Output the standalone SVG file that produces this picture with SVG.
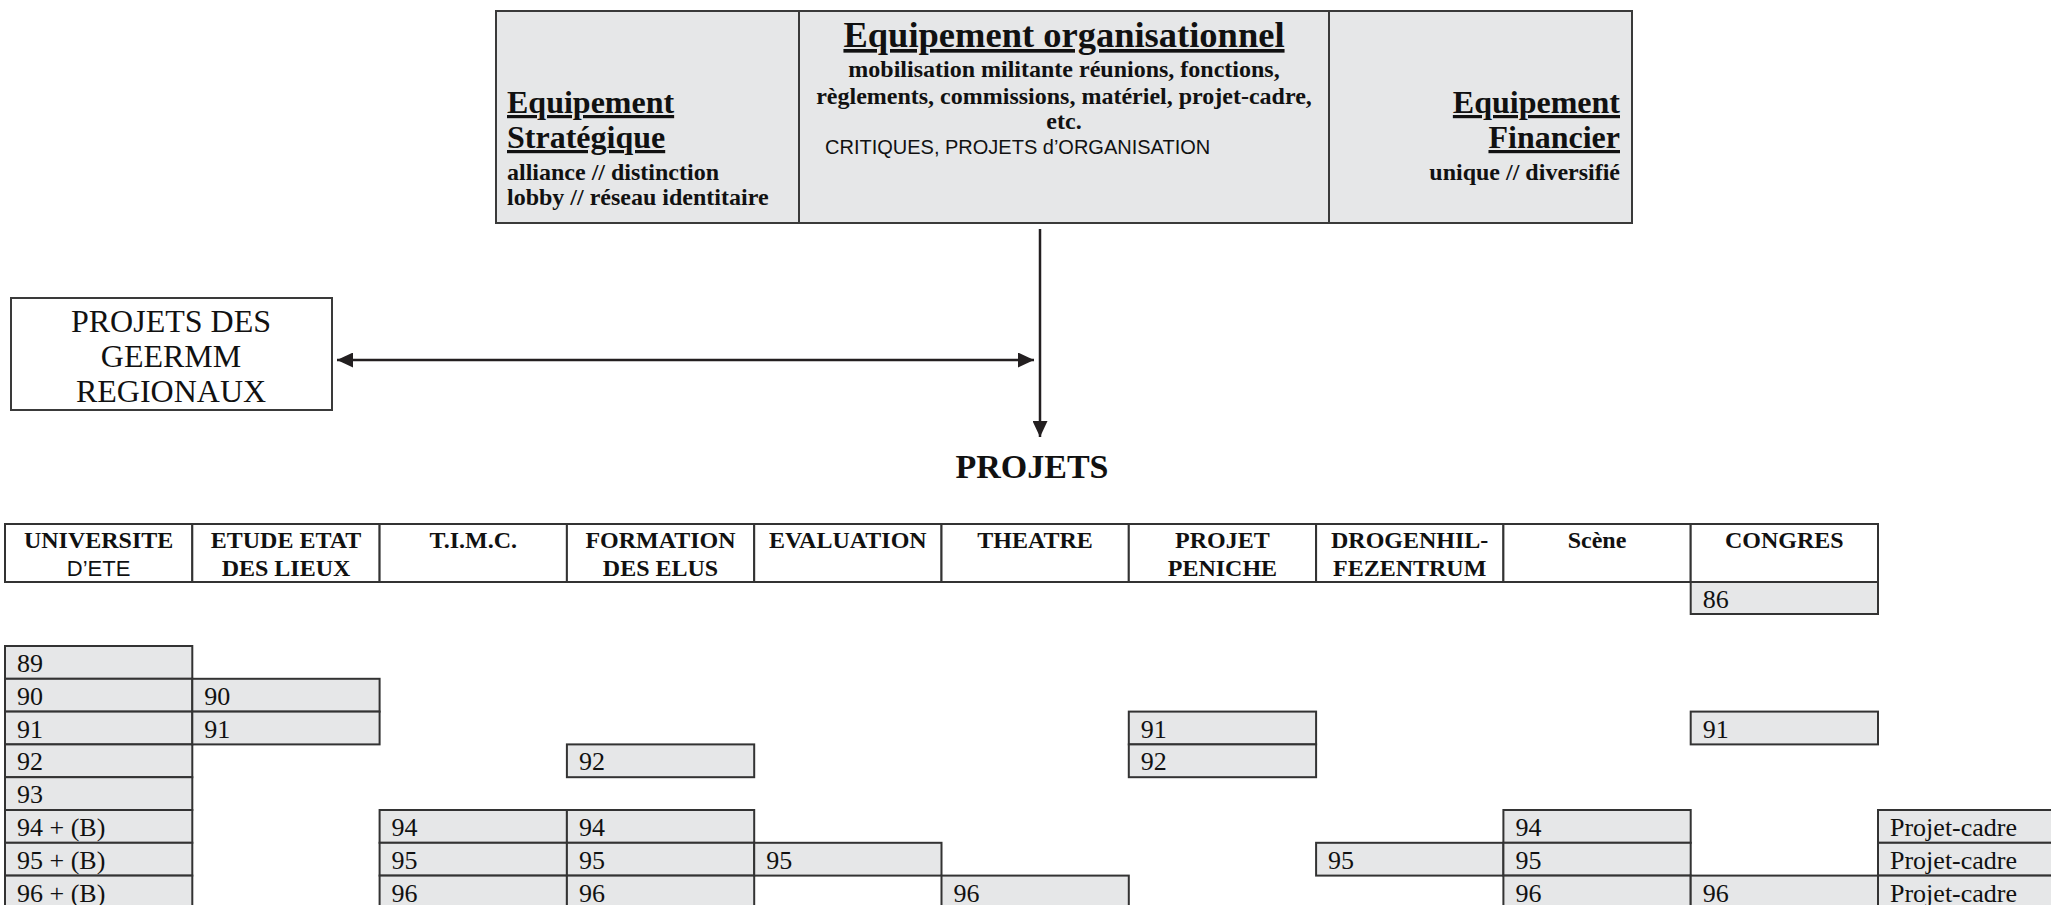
<svg xmlns="http://www.w3.org/2000/svg" width="2051" height="905" viewBox="0 0 2051 905">
<defs>
<style>
.box{fill:#e6e7e8;stroke:#3a3a3a;stroke-width:2}
.wbox{fill:#ffffff;stroke:#3a3a3a;stroke-width:2}
.div{stroke:#3a3a3a;stroke-width:2}
.cell{fill:#e6e7e8;stroke:#333333;stroke-width:2}
.hdr{fill:#ffffff;stroke:#333333;stroke-width:2}
.conn{stroke:#231f20;stroke-width:2.5;fill:none}
text{fill:#111111}
.big{font-family:"Liberation Serif",serif;font-weight:bold;font-size:32px;text-decoration:underline}
.title{font-family:"Liberation Serif",serif;font-weight:bold;font-size:36.5px;text-decoration:underline;text-anchor:middle}
.sub{font-family:"Liberation Serif",serif;font-weight:bold;font-size:24px}
.subc{font-family:"Liberation Serif",serif;font-weight:bold;font-size:24px;text-anchor:middle}
.sans{font-family:"Liberation Sans",Arial,sans-serif;font-size:20px}
.reg{font-family:"Liberation Serif",serif;font-size:32px;text-anchor:middle}
.proj{font-family:"Liberation Serif",serif;font-weight:bold;font-size:34px;text-anchor:middle}
.th{font-family:"Liberation Serif",serif;font-weight:bold;font-size:24px;text-anchor:middle}
.ths{font-family:"Liberation Sans",Arial,sans-serif;font-size:22px;text-anchor:middle}
.tc{font-family:"Liberation Serif",serif;font-size:26px}
</style>
<marker id="arr" viewBox="0 0 16 15" refX="16" refY="7.5" markerWidth="16" markerHeight="15" markerUnits="userSpaceOnUse" orient="auto-start-reverse">
<path d="M0,0 L16,7.5 L0,15 Z" fill="#231f20"/>
</marker>
</defs>

<g id="equipement">
<rect class="box" x="496" y="11" width="1136" height="212"/>
<line class="div" x1="799" y1="11" x2="799" y2="223"/>
<line class="div" x1="1329" y1="11" x2="1329" y2="223"/>
<g id="equipement-strategique">
<text class="big" x="507" y="113">Equipement</text>
<text class="big" x="507" y="148">Stratégique</text>
<text class="sub" x="507" y="180">alliance // distinction</text>
<text class="sub" x="507" y="205">lobby // réseau identitaire</text>
</g>
<g id="equipement-organisationnel">
<text class="title" x="1064" y="47">Equipement organisationnel</text>
<text class="subc" x="1064" y="77">mobilisation militante réunions, fonctions,</text>
<text class="subc" x="1064" y="104">règlements, commissions, matériel, projet-cadre,</text>
<text class="subc" x="1064" y="129">etc.</text>
<text class="sans" x="825" y="154">CRITIQUES, PROJETS d’ORGANISATION</text>
</g>
<g id="equipement-financier">
<text class="big" x="1620" y="113" text-anchor="end">Equipement</text>
<text class="big" x="1620" y="148" text-anchor="end">Financier</text>
<text class="sub" x="1620" y="180" text-anchor="end">unique // diversifié</text>
</g>
</g>

<g id="projets-geermm">
<rect class="wbox" x="11" y="298" width="321" height="112"/>
<text class="reg" x="171" y="332">PROJETS DES</text>
<text class="reg" x="171" y="367">GEERMM</text>
<text class="reg" x="171" y="402">REGIONAUX</text>
</g>

<g id="projets">
<text class="proj" x="1032" y="478">PROJETS</text>
</g>

<g id="connectors">
<line class="conn" x1="1040" y1="229" x2="1040" y2="437" marker-end="url(#arr)"/>
<line class="conn" x1="337" y1="360" x2="1034" y2="360" marker-start="url(#arr)" marker-end="url(#arr)"/>
</g>

<g id="table-header">
<g id="h-universite"><rect class="hdr" x="5" y="524" width="187.3" height="58"/><text class="th" x="98.6" y="548">UNIVERSITE</text><text class="ths" x="98.6" y="576">D’ETE</text></g>
<g id="h-etude"><rect class="hdr" x="192.3" y="524" width="187.3" height="58"/><text class="th" x="286" y="548">ETUDE ETAT</text><text class="th" x="286" y="576">DES LIEUX</text></g>
<g id="h-timc"><rect class="hdr" x="379.6" y="524" width="187.3" height="58"/><text class="th" x="473.2" y="548">T.I.M.C.</text></g>
<g id="h-formation"><rect class="hdr" x="566.9" y="524" width="187.3" height="58"/><text class="th" x="660.5" y="548">FORMATION</text><text class="th" x="660.5" y="576">DES ELUS</text></g>
<g id="h-evaluation"><rect class="hdr" x="754.2" y="524" width="187.3" height="58"/><text class="th" x="847.8" y="548">EVALUATION</text></g>
<g id="h-theatre"><rect class="hdr" x="941.5" y="524" width="187.3" height="58"/><text class="th" x="1035.1" y="548">THEATRE</text></g>
<g id="h-peniche"><rect class="hdr" x="1128.8" y="524" width="187.3" height="58"/><text class="th" x="1222.4" y="548">PROJET</text><text class="th" x="1222.4" y="576">PENICHE</text></g>
<g id="h-drogenhilfe"><rect class="hdr" x="1316.1" y="524" width="187.3" height="58"/><text class="th" x="1409.7" y="548">DROGENHIL-</text><text class="th" x="1409.7" y="576">FEZENTRUM</text></g>
<g id="h-scene"><rect class="hdr" x="1503.4" y="524" width="187.3" height="58"/><text class="th" x="1597" y="548">Scène</text></g>
<g id="h-congres"><rect class="hdr" x="1690.7" y="524" width="187.3" height="58"/><text class="th" x="1784.3" y="548">CONGRES</text></g>
</g>

<g id="col-universite">
<rect class="cell" x="5" y="646" width="187.3" height="32.8"/><text class="tc" x="17" y="672">89</text>
<rect class="cell" x="5" y="678.8" width="187.3" height="32.8"/><text class="tc" x="17" y="704.8">90</text>
<rect class="cell" x="5" y="711.6" width="187.3" height="32.8"/><text class="tc" x="17" y="737.6">91</text>
<rect class="cell" x="5" y="744.4" width="187.3" height="32.8"/><text class="tc" x="17" y="770.4">92</text>
<rect class="cell" x="5" y="777.2" width="187.3" height="32.8"/><text class="tc" x="17" y="803.2">93</text>
<rect class="cell" x="5" y="810" width="187.3" height="32.8"/><text class="tc" x="17" y="836">94 + (B)</text>
<rect class="cell" x="5" y="842.8" width="187.3" height="32.8"/><text class="tc" x="17" y="868.8">95 + (B)</text>
<rect class="cell" x="5" y="875.6" width="187.3" height="32.8"/><text class="tc" x="17" y="901.6">96 + (B)</text>
</g>
<g id="col-etude">
<rect class="cell" x="192.3" y="678.8" width="187.3" height="32.8"/><text class="tc" x="204.3" y="704.8">90</text>
<rect class="cell" x="192.3" y="711.6" width="187.3" height="32.8"/><text class="tc" x="204.3" y="737.6">91</text>
</g>
<g id="col-timc">
<rect class="cell" x="379.6" y="810" width="187.3" height="32.8"/><text class="tc" x="391.6" y="836">94</text>
<rect class="cell" x="379.6" y="842.8" width="187.3" height="32.8"/><text class="tc" x="391.6" y="868.8">95</text>
<rect class="cell" x="379.6" y="875.6" width="187.3" height="32.8"/><text class="tc" x="391.6" y="901.6">96</text>
</g>
<g id="col-formation">
<rect class="cell" x="566.9" y="744.4" width="187.3" height="32.8"/><text class="tc" x="578.9" y="770.4">92</text>
<rect class="cell" x="566.9" y="810" width="187.3" height="32.8"/><text class="tc" x="578.9" y="836">94</text>
<rect class="cell" x="566.9" y="842.8" width="187.3" height="32.8"/><text class="tc" x="578.9" y="868.8">95</text>
<rect class="cell" x="566.9" y="875.6" width="187.3" height="32.8"/><text class="tc" x="578.9" y="901.6">96</text>
</g>
<g id="col-evaluation">
<rect class="cell" x="754.2" y="842.8" width="187.3" height="32.8"/><text class="tc" x="766.2" y="868.8">95</text>
</g>
<g id="col-theatre">
<rect class="cell" x="941.5" y="875.6" width="187.3" height="32.8"/><text class="tc" x="953.5" y="901.6">96</text>
</g>
<g id="col-peniche">
<rect class="cell" x="1128.8" y="711.6" width="187.3" height="32.8"/><text class="tc" x="1140.8" y="737.6">91</text>
<rect class="cell" x="1128.8" y="744.4" width="187.3" height="32.8"/><text class="tc" x="1140.8" y="770.4">92</text>
</g>
<g id="col-drogenhilfe">
<rect class="cell" x="1316.1" y="842.8" width="187.3" height="32.8"/><text class="tc" x="1328.1" y="868.8">95</text>
</g>
<g id="col-scene">
<rect class="cell" x="1503.4" y="810" width="187.3" height="32.8"/><text class="tc" x="1515.4" y="836">94</text>
<rect class="cell" x="1503.4" y="842.8" width="187.3" height="32.8"/><text class="tc" x="1515.4" y="868.8">95</text>
<rect class="cell" x="1503.4" y="875.6" width="187.3" height="32.8"/><text class="tc" x="1515.4" y="901.6">96</text>
</g>
<g id="col-congres">
<rect class="cell" x="1690.7" y="582" width="187.3" height="32" /><text class="tc" x="1702.7" y="608">86</text>
<rect class="cell" x="1690.7" y="711.6" width="187.3" height="32.8"/><text class="tc" x="1702.7" y="737.6">91</text>
<rect class="cell" x="1690.7" y="875.6" width="187.3" height="32.8"/><text class="tc" x="1702.7" y="901.6">96</text>
</g>
<g id="col-projet-cadre">
<rect class="cell" x="1878" y="810" width="187.3" height="32.8"/><text class="tc" x="1890" y="836">Projet-cadre</text>
<rect class="cell" x="1878" y="842.8" width="187.3" height="32.8"/><text class="tc" x="1890" y="868.8">Projet-cadre</text>
<rect class="cell" x="1878" y="875.6" width="187.3" height="32.8"/><text class="tc" x="1890" y="901.6">Projet-cadre</text>
</g>
</svg>
